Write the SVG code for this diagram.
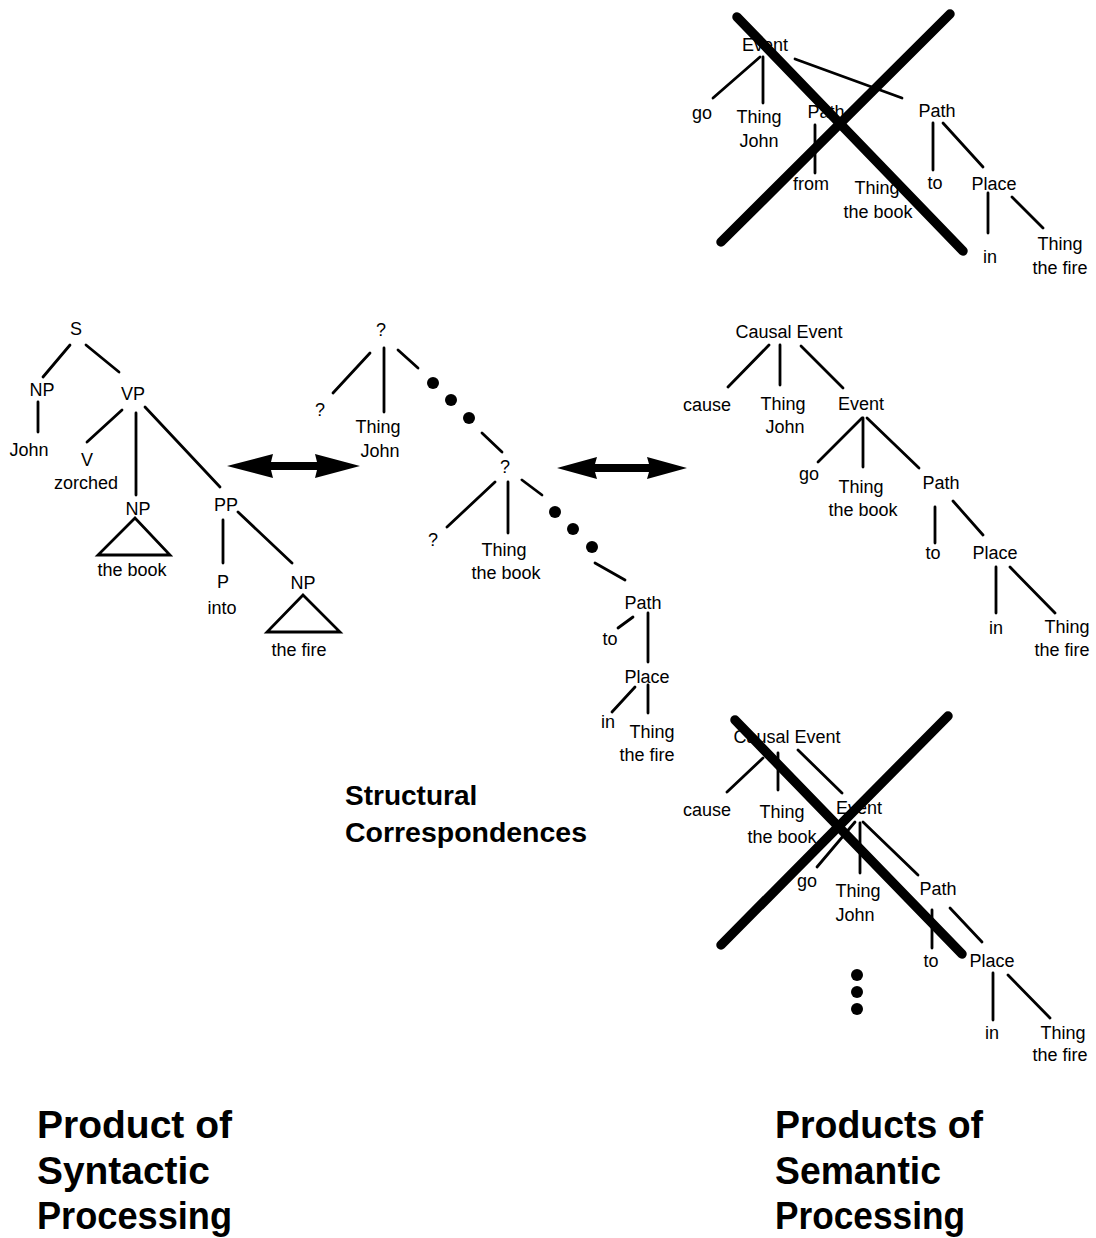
<svg xmlns="http://www.w3.org/2000/svg" width="1096" height="1238" viewBox="0 0 1096 1238">
<style>
.t{font-family:"Liberation Sans",Arial,sans-serif;font-size:18px;text-anchor:middle;fill:#000}
.big{font-family:"Liberation Sans",Arial,sans-serif;font-size:39px;font-weight:bold;fill:#000}
.mid{font-family:"Liberation Sans",Arial,sans-serif;font-size:28px;font-weight:bold;fill:#000}
.e line{stroke:#000;stroke-width:2.8;stroke-linecap:round;fill:none}
.e polygon.tri{fill:none;stroke:#000;stroke-width:2.8;stroke-linejoin:miter}
.x line{stroke:#000;stroke-width:9.5;stroke-linecap:round}
.dot{fill:#000}
.arr{fill:#000}
</style>
<rect width="1096" height="1238" fill="#fff"/>

<!-- connectors -->
<g id="connectors" class="e">
  <!-- top crossed tree -->
  <line x1="760" y1="57" x2="713" y2="98"/>
  <line x1="763" y1="57" x2="763" y2="103"/>
  <line x1="795" y1="59" x2="902" y2="98"/>
  <line x1="774" y1="58" x2="816" y2="99"/>
  <line x1="815" y1="125" x2="815" y2="173"/>
  <line x1="933" y1="123" x2="933" y2="170"/>
  <line x1="943" y1="123" x2="983" y2="167"/>
  <line x1="988" y1="193" x2="988" y2="233"/>
  <line x1="1012" y1="197" x2="1043" y2="228"/>
  <!-- left syntactic tree -->
  <line x1="70" y1="345" x2="43" y2="377"/>
  <line x1="86" y1="345" x2="119" y2="372"/>
  <line x1="38" y1="402" x2="38" y2="432"/>
  <line x1="122" y1="410" x2="87" y2="442"/>
  <line x1="136" y1="413" x2="136" y2="495"/>
  <line x1="145" y1="407" x2="220" y2="487"/>
  <line x1="223" y1="520" x2="223" y2="563"/>
  <line x1="238" y1="512" x2="292" y2="563"/>
  <polygon class="tri" points="135,518 98,555 170,555"/>
  <polygon class="tri" points="303,595 267,632 340,632"/>
  <!-- middle correspondence tree -->
  <line x1="370" y1="353" x2="333" y2="393"/>
  <line x1="384" y1="348" x2="384" y2="412"/>
  <line x1="398" y1="350" x2="418" y2="368"/>
  <line x1="482" y1="433" x2="502" y2="452"/>
  <line x1="495" y1="482" x2="447" y2="527"/>
  <line x1="508" y1="482" x2="508" y2="533"/>
  <line x1="522" y1="480" x2="542" y2="495"/>
  <line x1="595" y1="563" x2="625" y2="580"/>
  <line x1="633" y1="617" x2="618" y2="628"/>
  <line x1="648" y1="613" x2="648" y2="662"/>
  <line x1="635" y1="687" x2="612" y2="712"/>
  <line x1="648" y1="685" x2="648" y2="713"/>
  <!-- right semantic tree -->
  <line x1="769" y1="345" x2="728" y2="387"/>
  <line x1="780" y1="345" x2="780" y2="385"/>
  <line x1="801" y1="346" x2="843" y2="388"/>
  <line x1="862" y1="418" x2="818" y2="462"/>
  <line x1="863" y1="418" x2="863" y2="467"/>
  <line x1="867" y1="418" x2="919" y2="468"/>
  <line x1="935" y1="507" x2="935" y2="543"/>
  <line x1="953" y1="501" x2="983" y2="535"/>
  <line x1="996" y1="567" x2="996" y2="613"/>
  <line x1="1010" y1="567" x2="1055" y2="613"/>
  <!-- bottom crossed tree -->
  <line x1="763" y1="758" x2="727" y2="792"/>
  <line x1="778" y1="753" x2="778" y2="790"/>
  <line x1="798" y1="750" x2="842" y2="793"/>
  <line x1="855" y1="822" x2="817" y2="867"/>
  <line x1="860" y1="823" x2="860" y2="873"/>
  <line x1="863" y1="822" x2="918" y2="875"/>
  <line x1="932" y1="910" x2="932" y2="948"/>
  <line x1="950" y1="908" x2="982" y2="942"/>
  <line x1="993" y1="973" x2="993" y2="1020"/>
  <line x1="1008" y1="975" x2="1050" y2="1018"/>
</g>

<!-- dots -->
<g id="ellipsis">
  <circle class="dot" cx="433" cy="383" r="6"/>
  <circle class="dot" cx="451" cy="400" r="6"/>
  <circle class="dot" cx="469" cy="418" r="6"/>
  <circle class="dot" cx="555" cy="512" r="6"/>
  <circle class="dot" cx="573" cy="529" r="6"/>
  <circle class="dot" cx="592" cy="547" r="6"/>
  <circle class="dot" cx="857" cy="975" r="6"/>
  <circle class="dot" cx="857" cy="992" r="6"/>
  <circle class="dot" cx="857" cy="1009" r="6"/>
</g>

<!-- double arrows -->
<g id="arrows">
  <polygon class="arr" points="227,466 273,454 271,462 317,462 315,454 360,466 315,478 317,470 271,470 273,478"/>
  <polygon class="arr" points="557,468 597,457 595,464 649,464 647,457 687,468 647,479 649,472 595,472 597,479"/>
</g>

<!-- top crossed tree nodes -->
<g id="t1-event"><text class="t" x="765" y="51">Event</text></g>
<g id="t1-go"><text class="t" x="702" y="119">go</text></g>
<g id="t1-thing-john"><text class="t" x="759" y="123">Thing</text><text class="t" x="759" y="147">John</text></g>
<g id="t1-path1"><text class="t" x="826" y="118">Path</text></g>
<g id="t1-from"><text class="t" x="811" y="190">from</text></g>
<g id="t1-thing-book"><text class="t" x="877" y="194">Thing</text><text class="t" x="878" y="218">the book</text></g>
<g id="t1-path2"><text class="t" x="937" y="117">Path</text></g>
<g id="t1-to"><text class="t" x="935" y="189">to</text></g>
<g id="t1-place"><text class="t" x="994" y="190">Place</text></g>
<g id="t1-in"><text class="t" x="990" y="263">in</text></g>
<g id="t1-thing-fire"><text class="t" x="1060" y="250">Thing</text><text class="t" x="1060" y="274">the fire</text></g>

<!-- left syntactic tree nodes -->
<g id="s-S"><text class="t" x="76" y="335">S</text></g>
<g id="s-NP1"><text class="t" x="42" y="396">NP</text></g>
<g id="s-John"><text class="t" x="29" y="456">John</text></g>
<g id="s-VP"><text class="t" x="133" y="400">VP</text></g>
<g id="s-V"><text class="t" x="87" y="466">V</text><text class="t" x="86" y="489">zorched</text></g>
<g id="s-NP2"><text class="t" x="138" y="515">NP</text><text class="t" x="132" y="576">the book</text></g>
<g id="s-PP"><text class="t" x="226" y="511">PP</text></g>
<g id="s-P"><text class="t" x="223" y="588">P</text><text class="t" x="222" y="614">into</text></g>
<g id="s-NP3"><text class="t" x="303" y="589">NP</text><text class="t" x="299" y="656">the fire</text></g>

<!-- middle tree nodes -->
<g id="m-q1"><text class="t" x="381" y="336">?</text></g>
<g id="m-q2"><text class="t" x="320" y="416">?</text></g>
<g id="m-thing-john"><text class="t" x="378" y="433">Thing</text><text class="t" x="380" y="457">John</text></g>
<g id="m-q3"><text class="t" x="505" y="473">?</text></g>
<g id="m-q4"><text class="t" x="433" y="546">?</text></g>
<g id="m-thing-book"><text class="t" x="504" y="556">Thing</text><text class="t" x="506" y="579">the book</text></g>
<g id="m-path"><text class="t" x="643" y="609">Path</text></g>
<g id="m-to"><text class="t" x="610" y="645">to</text></g>
<g id="m-place"><text class="t" x="647" y="683">Place</text></g>
<g id="m-in"><text class="t" x="608" y="728">in</text></g>
<g id="m-thing-fire"><text class="t" x="652" y="738">Thing</text><text class="t" x="647" y="761">the fire</text></g>

<!-- right semantic tree nodes -->
<g id="r-causal"><text class="t" x="789" y="338">Causal Event</text></g>
<g id="r-cause"><text class="t" x="707" y="411">cause</text></g>
<g id="r-thing-john"><text class="t" x="783" y="410">Thing</text><text class="t" x="785" y="433">John</text></g>
<g id="r-event"><text class="t" x="861" y="410">Event</text></g>
<g id="r-go"><text class="t" x="809" y="480">go</text></g>
<g id="r-thing-book"><text class="t" x="861" y="493">Thing</text><text class="t" x="863" y="516">the book</text></g>
<g id="r-path"><text class="t" x="941" y="489">Path</text></g>
<g id="r-to"><text class="t" x="933" y="559">to</text></g>
<g id="r-place"><text class="t" x="995" y="559">Place</text></g>
<g id="r-in"><text class="t" x="996" y="634">in</text></g>
<g id="r-thing-fire"><text class="t" x="1067" y="633">Thing</text><text class="t" x="1062" y="656">the fire</text></g>

<!-- bottom crossed tree nodes -->
<g id="b-causal"><text class="t" x="787" y="743">Causal Event</text></g>
<g id="b-cause"><text class="t" x="707" y="816">cause</text></g>
<g id="b-thing-book"><text class="t" x="782" y="818">Thing</text><text class="t" x="782" y="843">the book</text></g>
<g id="b-event"><text class="t" x="859" y="814">Event</text></g>
<g id="b-go"><text class="t" x="807" y="887">go</text></g>
<g id="b-thing-john"><text class="t" x="858" y="897">Thing</text><text class="t" x="855" y="921">John</text></g>
<g id="b-path"><text class="t" x="938" y="895">Path</text></g>
<g id="b-to"><text class="t" x="931" y="967">to</text></g>
<g id="b-place"><text class="t" x="992" y="967">Place</text></g>
<g id="b-in"><text class="t" x="992" y="1039">in</text></g>
<g id="b-thing-fire"><text class="t" x="1063" y="1039">Thing</text><text class="t" x="1060" y="1061">the fire</text></g>

<!-- crosses -->
<g id="crosses" class="x">
  <line x1="737" y1="17" x2="963" y2="251"/>
  <line x1="950" y1="14" x2="721" y2="242"/>
  <line x1="735" y1="720" x2="962" y2="954"/>
  <line x1="948" y1="716" x2="721" y2="945"/>
</g>

<!-- captions -->
<g id="label-structural"><text class="mid" x="345" y="805">Structural</text><text class="mid" x="345" y="842" textLength="242" lengthAdjust="spacingAndGlyphs">Correspondences</text></g>
<g id="label-syntactic"><text class="big" x="37" y="1138" textLength="195" lengthAdjust="spacingAndGlyphs">Product of</text><text class="big" x="37" y="1184" textLength="173" lengthAdjust="spacingAndGlyphs">Syntactic</text><text class="big" x="37" y="1229" textLength="195" lengthAdjust="spacingAndGlyphs">Processing</text></g>
<g id="label-semantic"><text class="big" x="775" y="1138" textLength="208" lengthAdjust="spacingAndGlyphs">Products of</text><text class="big" x="775" y="1184" textLength="166" lengthAdjust="spacingAndGlyphs">Semantic</text><text class="big" x="775" y="1229" textLength="190" lengthAdjust="spacingAndGlyphs">Processing</text></g>
</svg>
